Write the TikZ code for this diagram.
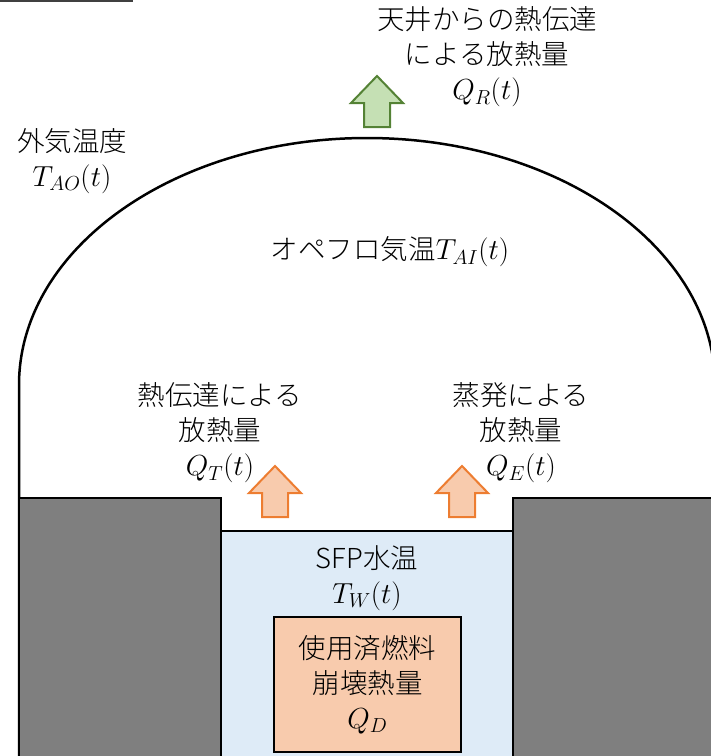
\RequirePackage{fix-cm}
\documentclass[tikz,border=0pt]{standalone}
\usepackage{fontspec}
\IfFontExistsTF{Noto Sans CJK JP Light}{\setmainfont{Noto Sans CJK JP Light}}{\setmainfont{Noto Sans CJK JP}}
\usepackage{tikz}
\definecolor{poolblue}{HTML}{DEEBF7}
\definecolor{fuelorange}{HTML}{F8CBAD}
\definecolor{heatorange}{HTML}{ED7D31}
\definecolor{roofgreen}{HTML}{548235}
\definecolor{leafgreen}{HTML}{C5E0B4}
\definecolor{wallgray}{HTML}{7F7F7F}
\def\heatup{++(-13,0) -- ++(0,24) -- ++(-13,0) -- ++(26,27) -- ++(26,-27) -- ++(-13,0) -- ++(0,-24) -- cycle}
\newcommand\mq[1]{{\fontsize{29}{36}\selectfont$#1$}}
\tikzset{
  label/.style={align=center, inner sep=0pt, font=\fontsize{27.5}{35}\selectfont},
  wall/.style={draw=black, line width=2.5pt},
  heatflow/.style={draw=heatorange, fill=fuelorange, line width=2pt},
  roofflow/.style={draw=roofgreen, fill=leafgreen, line width=2pt}
}

\begin{document}
\begin{tikzpicture}[x=1pt,y=1pt]
            \useasboundingbox (0,0) rectangle (711,-756);
            \clip (0,0) rectangle (711,-756);
            \draw[line width=1.5pt, black!75] (0,-1) -- (133,-1);
            % building outline
            \draw[wall] (19,-756) -- (19,-385) arc[start angle=180, end angle=0, x radius=348, y radius=247] -- (715,-756);
            % floor blocks and pool
            \draw[wall, fill=wallgray] (19,-498) rectangle (221,-760);
            \draw[wall, fill=wallgray] (513,-498) rectangle (720,-760);
            \draw[wall, fill=poolblue] (221,-531) rectangle (513,-760);
            \node[draw=black, line width=2.5pt, fill=fuelorange, label, minimum width=187pt, minimum height=135pt]
                (fuel) at (367.5,-684.5) {使用済燃料\\崩壊熱量\\\mq{Q_D}};
            % heat flows
            \draw[roofflow] (377,-127) \heatup;
            \draw[heatflow] (275,-517) \heatup;
            \draw[heatflow] (462,-517) \heatup;
            % labels
            \node[label] (roof)    at (487,-57)  {天井からの熱伝達\\による放熱量\\\mq{Q_R(t)}};
            \node[label] (outside) at (72,-161)  {外気温度\\\mq{T_{AO}(t)}};
            \node[label] (floor)   at (390,-252) {オペフロ気温\mq{T_{AI}(t)}};
            \node[label] (conduct) at (220,-433) {熱伝達による\\放熱量\\\mq{Q_T(t)}};
            \node[label] (evap)    at (521,-433) {蒸発による\\放熱量\\\mq{Q_E(t)}};
            \node[label] (water)   at (367,-578) {SFP水温\\\mq{T_W(t)}};
        \end{tikzpicture}
\end{document}
